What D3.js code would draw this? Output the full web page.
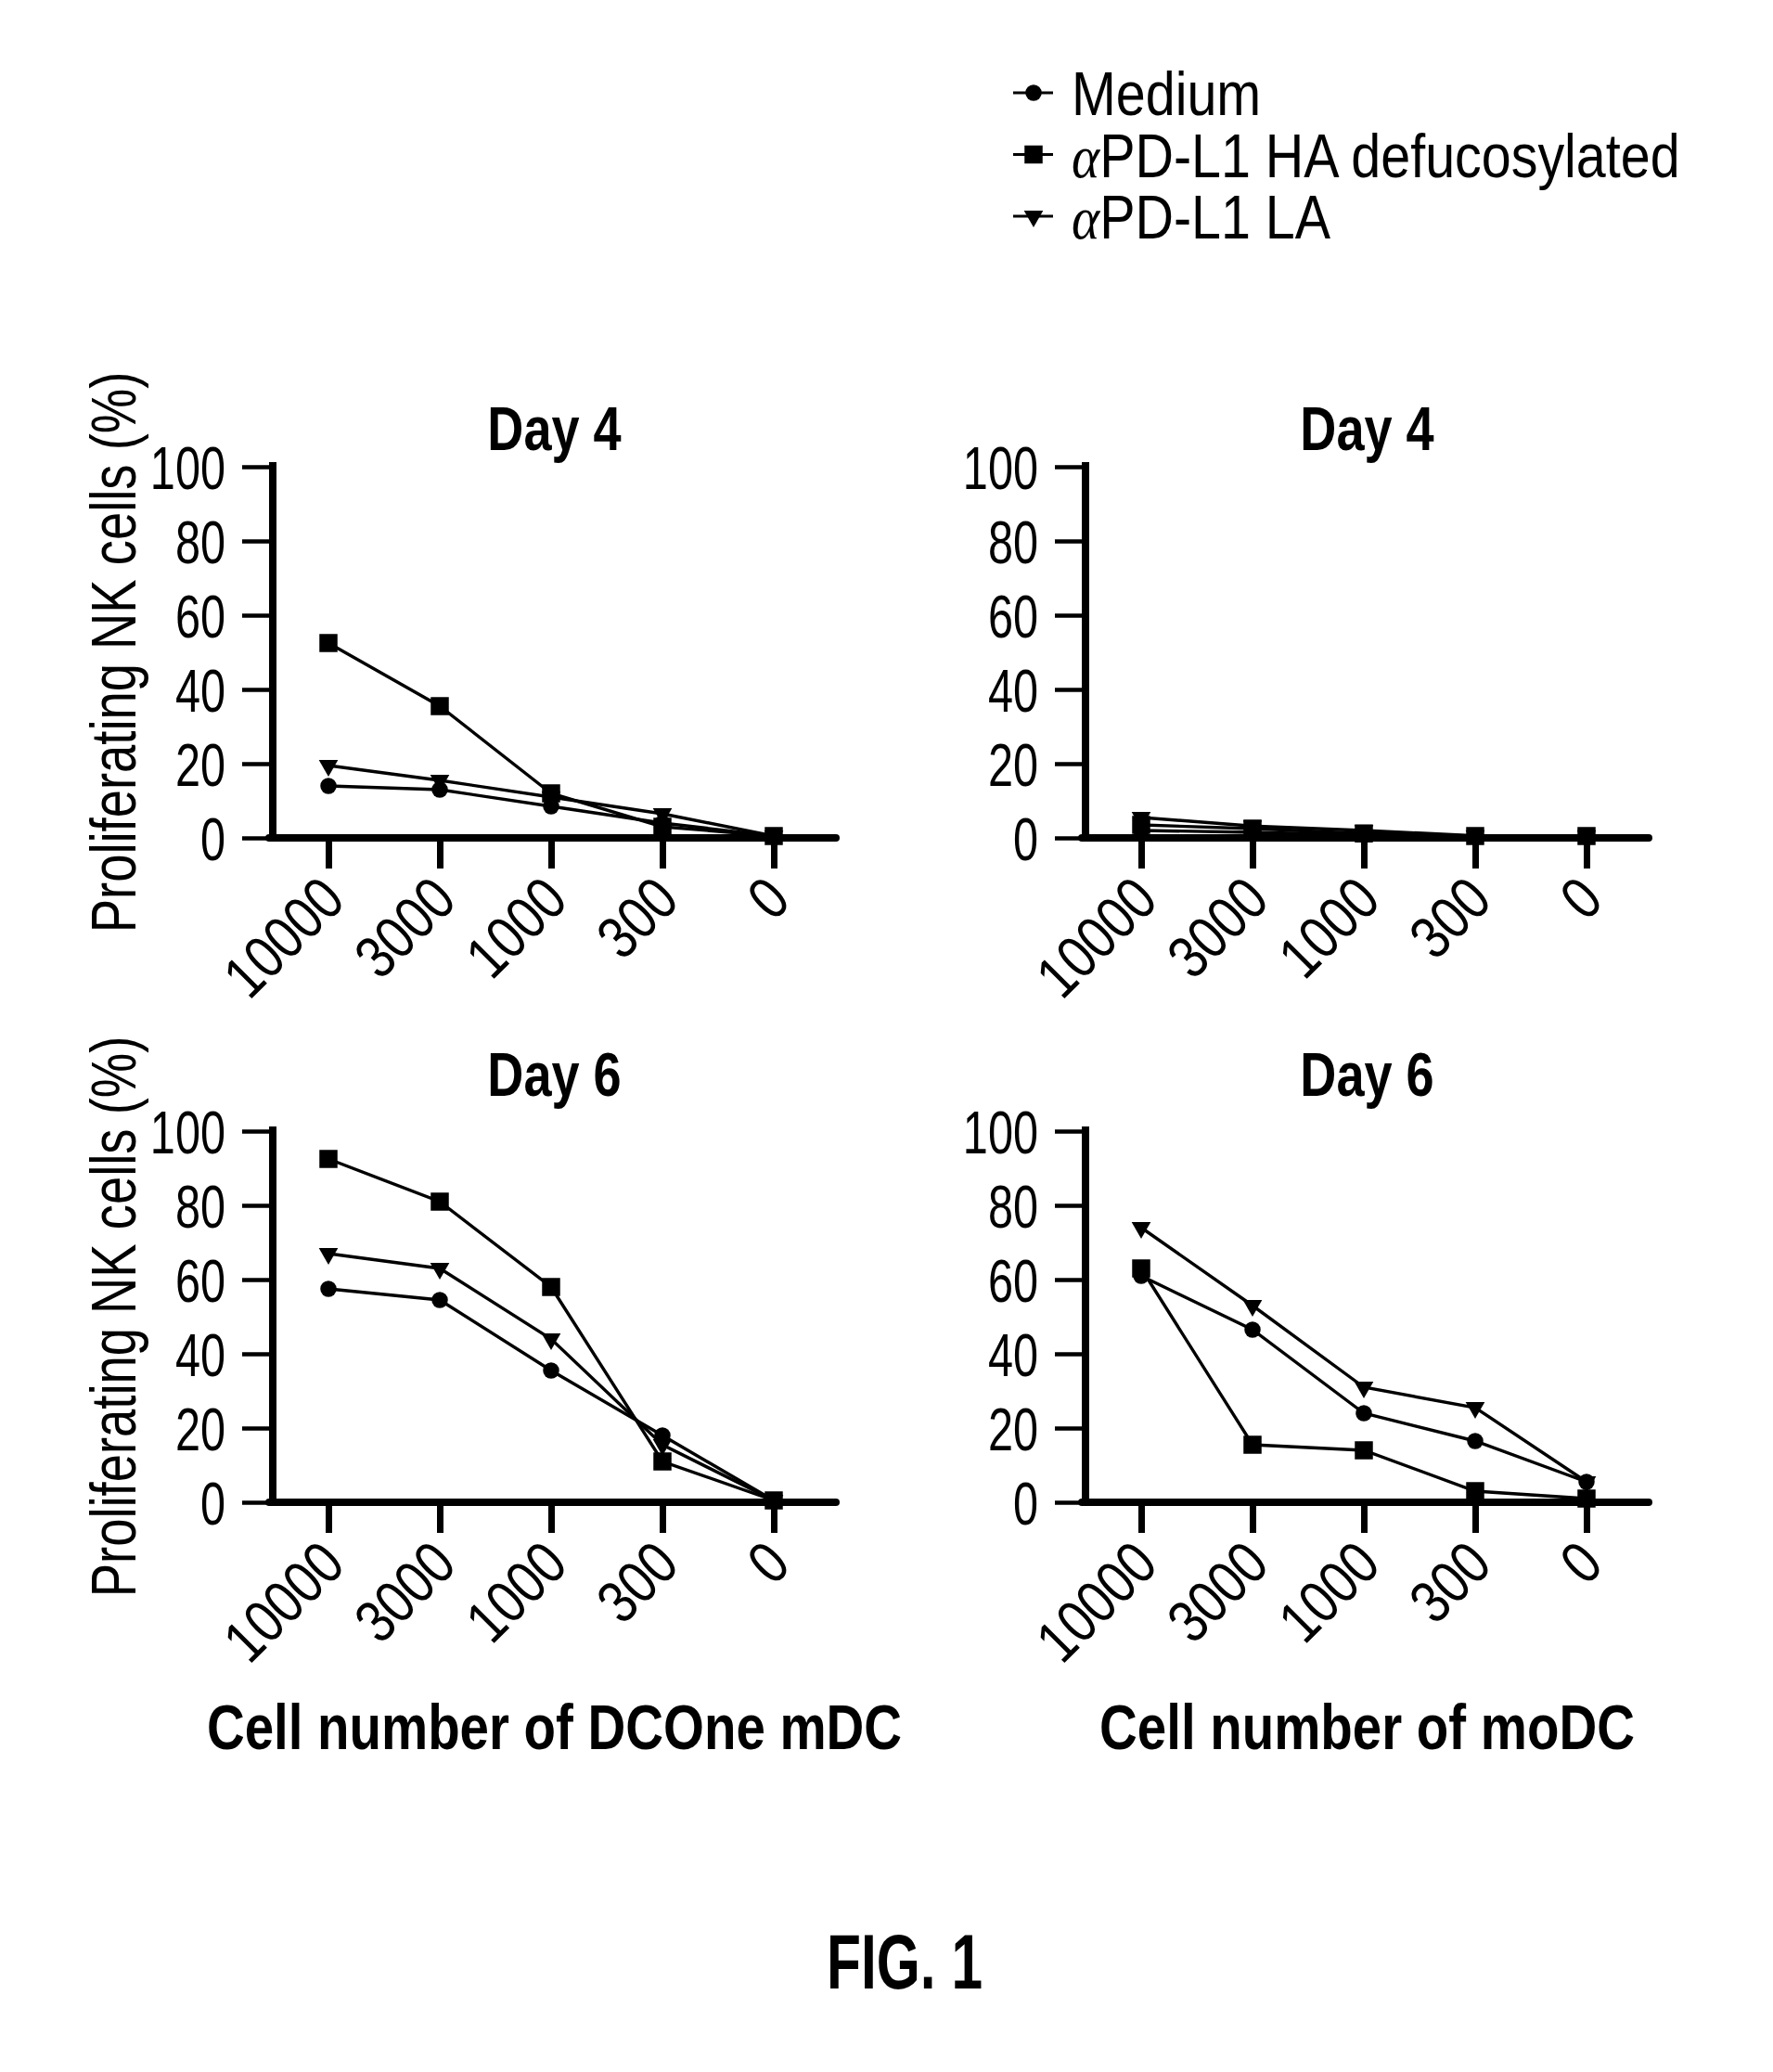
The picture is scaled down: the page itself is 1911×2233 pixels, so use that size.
<!DOCTYPE html>
<html>
<head>
<meta charset="utf-8">
<script src="https://cdn.jsdelivr.net/npm/d3@7"></script>
<style>
  body { margin: 0; background: #fff; }
  svg { display: block; background: #fff; }
  text { font-family: 'Liberation Sans', Arial, sans-serif; fill: #000; }
</style>
</head>
<body>
<svg id="chart" width="1911" height="2233"></svg>
<script>
// cell number of DCs (x categories), shared by all four panels
const cellNumbers = ['10000', '3000', '1000', '300', '0']
const yTickValues = [0, 20, 40, 60, 80, 100]

const seriesNames = ['Medium', 'PD-L1 HA defucosylated', 'PD-L1 LA']
const seriesSymbols = ['circle', 'square', 'triangle']

// Proliferating NK cells (%)
const day4DCOneMedium = [14, 13, 8.5, 4, 0.5]
const day4DCOneHA = [52.5, 35.5, 12, 3, 0.5]
const day4DCOneLA = [19.5, 15.5, 11, 6.5, 0.5]

const day4MoDCMedium = [2, 1.5, 0.8, 0.3, 0.3]
const day4MoDCHA = [3.5, 2.5, 1.2, 0.5, 0.5]
const day4MoDCLA = [5.5, 3.2, 2, 0.6, 0.6]

const day6DCOneMedium = [57.5, 54.5, 35.5, 18, 0.5]
const day6DCOneHA = [92.5, 81, 58, 11, 0.5]
const day6DCOneLA = [67, 63, 44, 15.5, 0.5]

const day6MoDCMedium = [61, 46.5, 24, 16.5, 5.5]
const day6MoDCHA = [63, 15.5, 14, 3, 1]
const day6MoDCLA = [74, 53, 31, 25.5, 5.5]

const plotWidth = 607
const plotHeight = 400

// the figure uses a narrow sans; no narrow face is installed, so squeeze the regular one
const NARROW = 0.8
const NARROW_DIGITS = 0.76

const panels = [
  { title: 'Day 4', left: 294, top: 503, titleY: 485, yLabel: true, xTitle: null,
    values: [day4DCOneMedium, day4DCOneHA, day4DCOneLA] },
  { title: 'Day 4', left: 1170, top: 503, titleY: 485, yLabel: false, xTitle: null,
    values: [day4MoDCMedium, day4MoDCHA, day4MoDCLA] },
  { title: 'Day 6', left: 294, top: 1219, titleY: 1181, yLabel: true, xTitle: 'Cell number of DCOne mDC',
    values: [day6DCOneMedium, day6DCOneHA, day6DCOneLA] },
  { title: 'Day 6', left: 1170, top: 1219, titleY: 1181, yLabel: false, xTitle: 'Cell number of moDC',
    values: [day6MoDCMedium, day6MoDCHA, day6MoDCLA] }
]

const svg = d3.select('#chart')

const x = d3.scalePoint()
  .domain(cellNumbers)
  .range([60, 540])

const y = d3.scaleLinear()
  .domain([0, 100])
  .range([plotHeight, 0])

const symbolFor = name => {
  if (name === 'circle') return d3.symbol(d3.symbolCircle, 240)()
  if (name === 'square') return d3.symbol(d3.symbolSquare, 380)()
  return d3.symbol(d3.symbolTriangle, 185)()
}

const drawMarker = (sel, name) => {
  sel.append('path')
    .attr('d', symbolFor(name))
    .attr('transform', name === 'triangle' ? 'rotate(180)' : null)
    .attr('fill', '#000')
}

const label = (parent, tx, ty, str, size, opts = {}) => parent.append('text')
  .attr('transform', `translate(${tx}, ${ty})${opts.rotate ? ` rotate(${opts.rotate})` : ''} scale(${opts.k || NARROW}, 1)`)
  .attr('text-anchor', opts.anchor || 'middle')
  .attr('font-size', size)
  .attr('font-weight', opts.bold ? 'bold' : null)
  .text(str)

function drawPanel(p) {
  const g = svg.append('g')
    .attr('transform', `translate(${p.left}, ${p.top})`)

  label(svg, p.left + plotWidth / 2, p.titleY, p.title, 66, { bold: true, k: 0.82 })

  // y axis
  const yAxis = g.append('g')
    .call(d3.axisLeft(y).tickValues(yTickValues).tickSize(33).tickPadding(18))
  yAxis.select('.domain').remove()
  yAxis.selectAll('line').attr('stroke', '#000').attr('stroke-width', 4.5)
  yAxis.selectAll('text')
    .attr('font-size', 64)
    .attr('font-family', null)
    .attr('x', 0)
    .attr('dy', '0.36em')
    .attr('transform', `translate(-51, 0) scale(${NARROW_DIGITS}, 1)`)

  g.append('line')
    .attr('x1', 0).attr('x2', 0)
    .attr('y1', y(100) - 5).attr('y2', y(0))
    .attr('stroke', '#000')
    .attr('stroke-width', 8)

  // x axis
  const xAxis = g.append('g')
    .attr('transform', `translate(0, ${plotHeight})`)
    .call(d3.axisBottom(x).tickSize(33).tickPadding(0))
  xAxis.select('.domain').remove()
  xAxis.selectAll('line').attr('stroke', '#000').attr('stroke-width', 7)
  xAxis.selectAll('text')
    .attr('font-size', 65)
    .attr('font-family', null)
    .attr('text-anchor', 'end')
    .attr('y', 0)
    .attr('dy', null)
    .attr('transform', 'translate(20, 70) rotate(-45) scale(0.83, 1)')

  g.append('line')
    .attr('x1', -4).attr('x2', plotWidth)
    .attr('y1', plotHeight).attr('y2', plotHeight)
    .attr('stroke', '#000')
    .attr('stroke-width', 8)
    .attr('stroke-linecap', 'round')

  // series
  const line = d3.line()
    .x((d, i) => x(cellNumbers[i]))
    .y(d => y(d))

  p.values.forEach((vals, s) => {
    g.append('path')
      .datum(vals)
      .attr('d', line)
      .attr('fill', 'none')
      .attr('stroke', '#000')
      .attr('stroke-width', 3.4)

    g.selectAll(null)
      .data(vals)
      .join('g')
      .attr('transform', (d, i) => `translate(${x(cellNumbers[i])}, ${y(d)})`)
      .each(function () { drawMarker(d3.select(this), seriesSymbols[s]) })
  })

  if (p.yLabel) {
    label(svg, 146, p.top + plotHeight / 2, 'Proliferating NK cells (%)', 68, { rotate: -90, k: 0.8 })
  }

  if (p.xTitle) {
    label(svg, p.left + plotWidth / 2, 1885, p.xTitle, 68, { bold: true, k: 0.83 })
  }
}

panels.forEach(drawPanel)

// legend
const legend = svg.append('g')
  .attr('transform', 'translate(1092, 124)')

seriesNames.forEach((name, i) => {
  const row = legend.append('g')
    .attr('transform', `translate(0, ${i * 66.5})`)

  row.append('line')
    .attr('x1', 0).attr('x2', 43)
    .attr('y1', -24).attr('y2', -24)
    .attr('stroke', '#000')
    .attr('stroke-width', 3)

  drawMarker(row.append('g').attr('transform', 'translate(22, -24)'), seriesSymbols[i])

  const t = label(row, 63, 0, null, 66, { anchor: 'start', k: 0.87 })
  if (i > 0) {
    t.append('tspan')
      .attr('font-family', "'Liberation Serif', serif")
      .attr('font-style', 'italic')
      .text('α')
  }
  t.append('tspan').text(name)
})

label(svg, 975, 2143, 'FIG. 1', 84, { bold: true, k: 0.72 })
</script>
</body>
</html>
